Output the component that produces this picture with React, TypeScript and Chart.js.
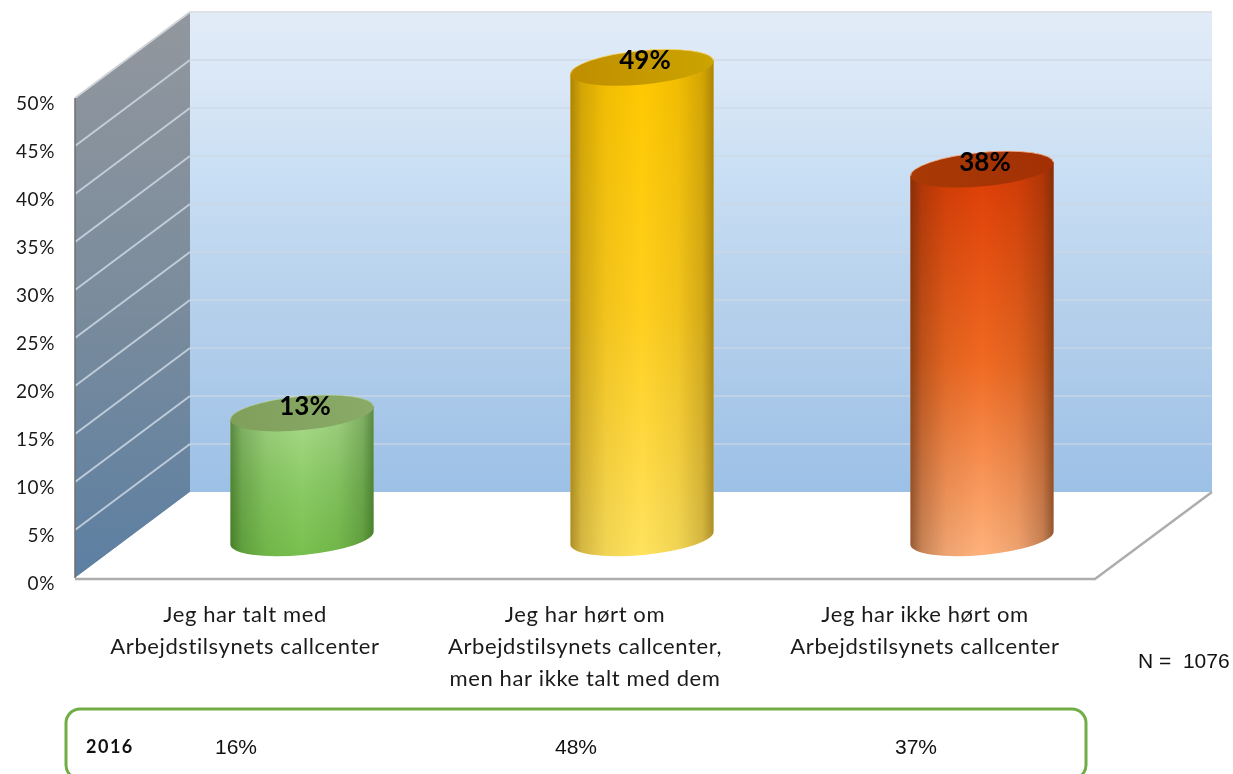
import React, { useEffect, useRef } from "react";
import { Chart, registerables } from "chart.js";

Chart.register(...registerables);

const categories: string[][] = [
  ["Jeg har talt med", "Arbejdstilsynets callcenter"],
  ["Jeg har hørt om", "Arbejdstilsynets callcenter,", "men har ikke talt med dem"],
  ["Jeg har ikke hørt om", "Arbejdstilsynets callcenter"],
];
const values2020: number[] = [13, 49, 38.4];
const yTicks: number[] = [0, 5, 10, 15, 20, 25, 30, 35, 40, 45, 50];
const rowYear = "2016";
const rowValues: string[] = ["16%", "48%", "37%"];
const sampleNote = "N =  1076";

type Look = { top: string; mid: string; bottom: string; edge: string; capA: string; capB: string; rim: string };
const looks: Look[] = [
  { top: "#aadb8b", mid: "#8ccb66", bottom: "#78c04e", edge: "40,85,20", capA: "#7f9f5b", capB: "#8aab68", rim: "rgba(190,215,170,0.6)" },
  { top: "#ffc800", mid: "#ffcf1e", bottom: "#ffe25e", edge: "120,90,10", capA: "#c08e00", capB: "#cba400", rim: "rgba(250,225,150,0.7)" },
  { top: "#dd3d05", mid: "#f06a22", bottom: "#ffb27c", edge: "80,35,10", capA: "#a83a06", capB: "#a33004", rim: "rgba(250,200,170,0.8)" },
];

const DEPTH_X = 115;
const DEPTH_Y = 86;
const BAR_SHIFT_X = 57;
const BAR_SHIFT_Y = 40;
const TILT = -0.095;
const CAP_B = 17;

const scenePlugin = {
  id: "scene",
  beforeDraw(chart: any) {
    chart.ctx.letterSpacing = "0.6px";
  },
  beforeDatasetsDraw(chart: any) {
    const { ctx, chartArea: a, scales } = chart;
    const y = scales.y;
    const L = a.left, R = a.right, T = y.getPixelForValue(50), B = y.getPixelForValue(0);
    ctx.save();
    // back wall
    const back = ctx.createLinearGradient(0, T - DEPTH_Y, 0, B - DEPTH_Y);
    back.addColorStop(0, "#e2ecf8");
    back.addColorStop(0.2, "#d6e5f5");
    back.addColorStop(0.33, "#c9dff4");
    back.addColorStop(0.6, "#b7d1ec");
    back.addColorStop(1, "#9cc0e6");
    ctx.fillStyle = back;
    ctx.fillRect(L + DEPTH_X, T - DEPTH_Y, R - L + 2, B - T);
    // side wall
    const side = ctx.createLinearGradient(0, T - DEPTH_Y, 0, B);
    side.addColorStop(0, "#92979e");
    side.addColorStop(0.5, "#7b8c9c");
    side.addColorStop(1, "#5c7fa2");
    ctx.fillStyle = side;
    ctx.beginPath();
    ctx.moveTo(L, T);
    ctx.lineTo(L + DEPTH_X, T - DEPTH_Y);
    ctx.lineTo(L + DEPTH_X, B - DEPTH_Y);
    ctx.lineTo(L, B);
    ctx.closePath();
    ctx.fill();
    // gridlines
    yTicks.forEach((v) => {
      const p = y.getPixelForValue(v);
      if (v > 0) {
        ctx.strokeStyle = v === 50 ? "#dfe1e4" : "rgba(205,215,228,0.8)";
        ctx.lineWidth = v === 50 ? 2 : 1.5;
        ctx.beginPath();
        ctx.moveTo(L + DEPTH_X, p - DEPTH_Y);
        ctx.lineTo(R + DEPTH_X + 2, p - DEPTH_Y);
        ctx.stroke();
        ctx.strokeStyle = v === 50 ? "#d0d2d5" : "rgba(205,215,226,0.85)";
        ctx.lineWidth = 2;
        ctx.beginPath();
        ctx.moveTo(L, p);
        ctx.lineTo(L + DEPTH_X, p - DEPTH_Y);
        ctx.stroke();
      }
    });
    // floor
    ctx.fillStyle = "#ffffff";
    ctx.beginPath();
    ctx.moveTo(L, B);
    ctx.lineTo(L + DEPTH_X, B - DEPTH_Y);
    ctx.lineTo(R + DEPTH_X + 2, B - DEPTH_Y);
    ctx.lineTo(R, B);
    ctx.closePath();
    ctx.fill();
    ctx.strokeStyle = "#adadad";
    ctx.lineWidth = 2.5;
    ctx.beginPath();
    ctx.moveTo(L, B + 1);
    ctx.lineTo(R, B + 1);
    ctx.lineTo(R + DEPTH_X + 2, B - DEPTH_Y);
    ctx.stroke();
    ctx.strokeStyle = "#6e6e6e";
    ctx.lineWidth = 1.5;
    ctx.beginPath();
    ctx.moveTo(L, T);
    ctx.lineTo(L, B);
    ctx.stroke();
    // cylinders
    const meta = chart.getDatasetMeta(0);
    meta.data.forEach((el: any, i: number) => {
      const look = looks[i];
      const cx = el.x + BAR_SHIFT_X;
      const top = el.y - BAR_SHIFT_Y;
      const base = el.base - BAR_SHIFT_Y;
      const ra = el.width / 2;
      const left = cx - ra, right = cx + ra;
      ctx.save();
      ctx.beginPath();
      ctx.ellipse(cx, base, ra, CAP_B, TILT, 0, Math.PI);
      ctx.ellipse(cx, top, ra, CAP_B, TILT, Math.PI, Math.PI * 2);
      ctx.closePath();
      ctx.clip();
      const body = ctx.createLinearGradient(0, top, 0, base + CAP_B);
      body.addColorStop(0, look.top);
      body.addColorStop(0.5, look.mid);
      body.addColorStop(1, look.bottom);
      ctx.fillStyle = body;
      ctx.fillRect(left - 2, top - 30, ra * 2 + 4, base - top + 60);
      const shade = ctx.createLinearGradient(left, 0, right, 0);
      shade.addColorStop(0, `rgba(${look.edge},0.62)`);
      shade.addColorStop(0.08, `rgba(${look.edge},0.32)`);
      shade.addColorStop(0.25, `rgba(${look.edge},0.1)`);
      shade.addColorStop(0.5, `rgba(${look.edge},0)`);
      shade.addColorStop(0.75, `rgba(${look.edge},0.1)`);
      shade.addColorStop(0.92, `rgba(${look.edge},0.32)`);
      shade.addColorStop(1, `rgba(${look.edge},0.62)`);
      ctx.fillStyle = shade;
      ctx.fillRect(left - 2, top - 30, ra * 2 + 4, base - top + 60);
      ctx.restore();
      const cap = ctx.createLinearGradient(left, 0, right, 0);
      cap.addColorStop(0, look.capA);
      cap.addColorStop(1, look.capB);
      ctx.fillStyle = cap;
      ctx.beginPath();
      ctx.ellipse(cx, top, ra, CAP_B, TILT, 0, Math.PI * 2);
      ctx.fill();
      ctx.strokeStyle = look.rim;
      ctx.lineWidth = 1;
      ctx.beginPath();
      ctx.ellipse(cx, top, ra, CAP_B, TILT, Math.PI, Math.PI * 2);
      ctx.stroke();
    });
    ctx.restore();
  },
  afterDatasetsDraw(chart: any) {
    const { ctx, scales } = chart;
    const x = scales.x;
    ctx.save();
    ctx.letterSpacing = "0px";
    // value labels
    ctx.fillStyle = "#000000";
    ctx.textAlign = "center";
    ctx.textBaseline = "middle";
    ctx.font = 'bold 26px "Lato"';
    chart.getDatasetMeta(0).data.forEach((el: any, i: number) => {
      ctx.fillText(`${Math.round(values2020[i])}%`, el.x + BAR_SHIFT_X + 3, el.y - BAR_SHIFT_Y - 7);
    });
    // comparison box
    ctx.strokeStyle = "#70ad47";
    ctx.lineWidth = 3;
    ctx.beginPath();
    ctx.roundRect(66, 709, 1020, 70, 14);
    ctx.stroke();
    ctx.fillStyle = "#111111";
    ctx.textAlign = "left";
    ctx.letterSpacing = "1.5px";
    ctx.font = 'bold 18px "Lato"';
    ctx.fillText(rowYear, 86, 747);
    ctx.letterSpacing = "0px";
    ctx.textAlign = "center";
    ctx.font = '21px "Liberation Sans"';
    rowValues.forEach((t, i) => ctx.fillText(t, x.getPixelForValue(i) - 9, 748));
    ctx.textAlign = "left";
    ctx.fillText(sampleNote, 1138, 662);
    ctx.restore();
  },
};

export default function App() {
  const ref = useRef<HTMLCanvasElement | null>(null);
  useEffect(() => {
    const chart = new Chart(ref.current as HTMLCanvasElement, {
      type: "bar",
      data: {
        labels: categories as any,
        datasets: [
          {
            data: values2020,
            backgroundColor: "rgba(0,0,0,0)",
            borderWidth: 0,
            categoryPercentage: 0.423,
            barPercentage: 1,
          },
        ],
      },
      options: {
        animation: false,
        responsive: false,
        layout: { padding: { left: 0, top: 98, right: 138, bottom: 0 } },
        plugins: { legend: { display: false }, tooltip: { enabled: false }, title: { display: false } },
        scales: {
          x: {
            grid: { display: false, drawTicks: false },
            border: { display: false },
            afterFit: (s: any) => { s.height = 196; },
            ticks: {
              autoSkip: false,
              maxRotation: 0,
              minRotation: 0,
              padding: 21,
              color: "#1a1a1a",
              font: { family: "Lato", size: 22, lineHeight: 1.455 },
            },
          },
          y: {
            min: 0,
            max: 50,
            grid: { display: false, drawTicks: false },
            border: { display: false },
            afterFit: (s: any) => { s.width = 75; },
            afterBuildTicks: (s: any) => { s.ticks = yTicks.map((v) => ({ value: v })); },
            ticks: {
              padding: 20,
              labelOffset: 6,
              color: "#1a1a1a",
              font: { family: "Lato", size: 19 },
              callback: (v: any) => `${v}%`,
            },
          },
        },
      },
      plugins: [scenePlugin],
    } as any);
    return () => chart.destroy();
  }, []);
  return (
    <div style={{ position: "absolute", left: 0, top: 0, width: 1233, height: 774, overflow: "hidden", background: "#fff" }}>
      <canvas ref={ref} width={1233} height={774} style={{ display: "block" }} />
    </div>
  );
}
